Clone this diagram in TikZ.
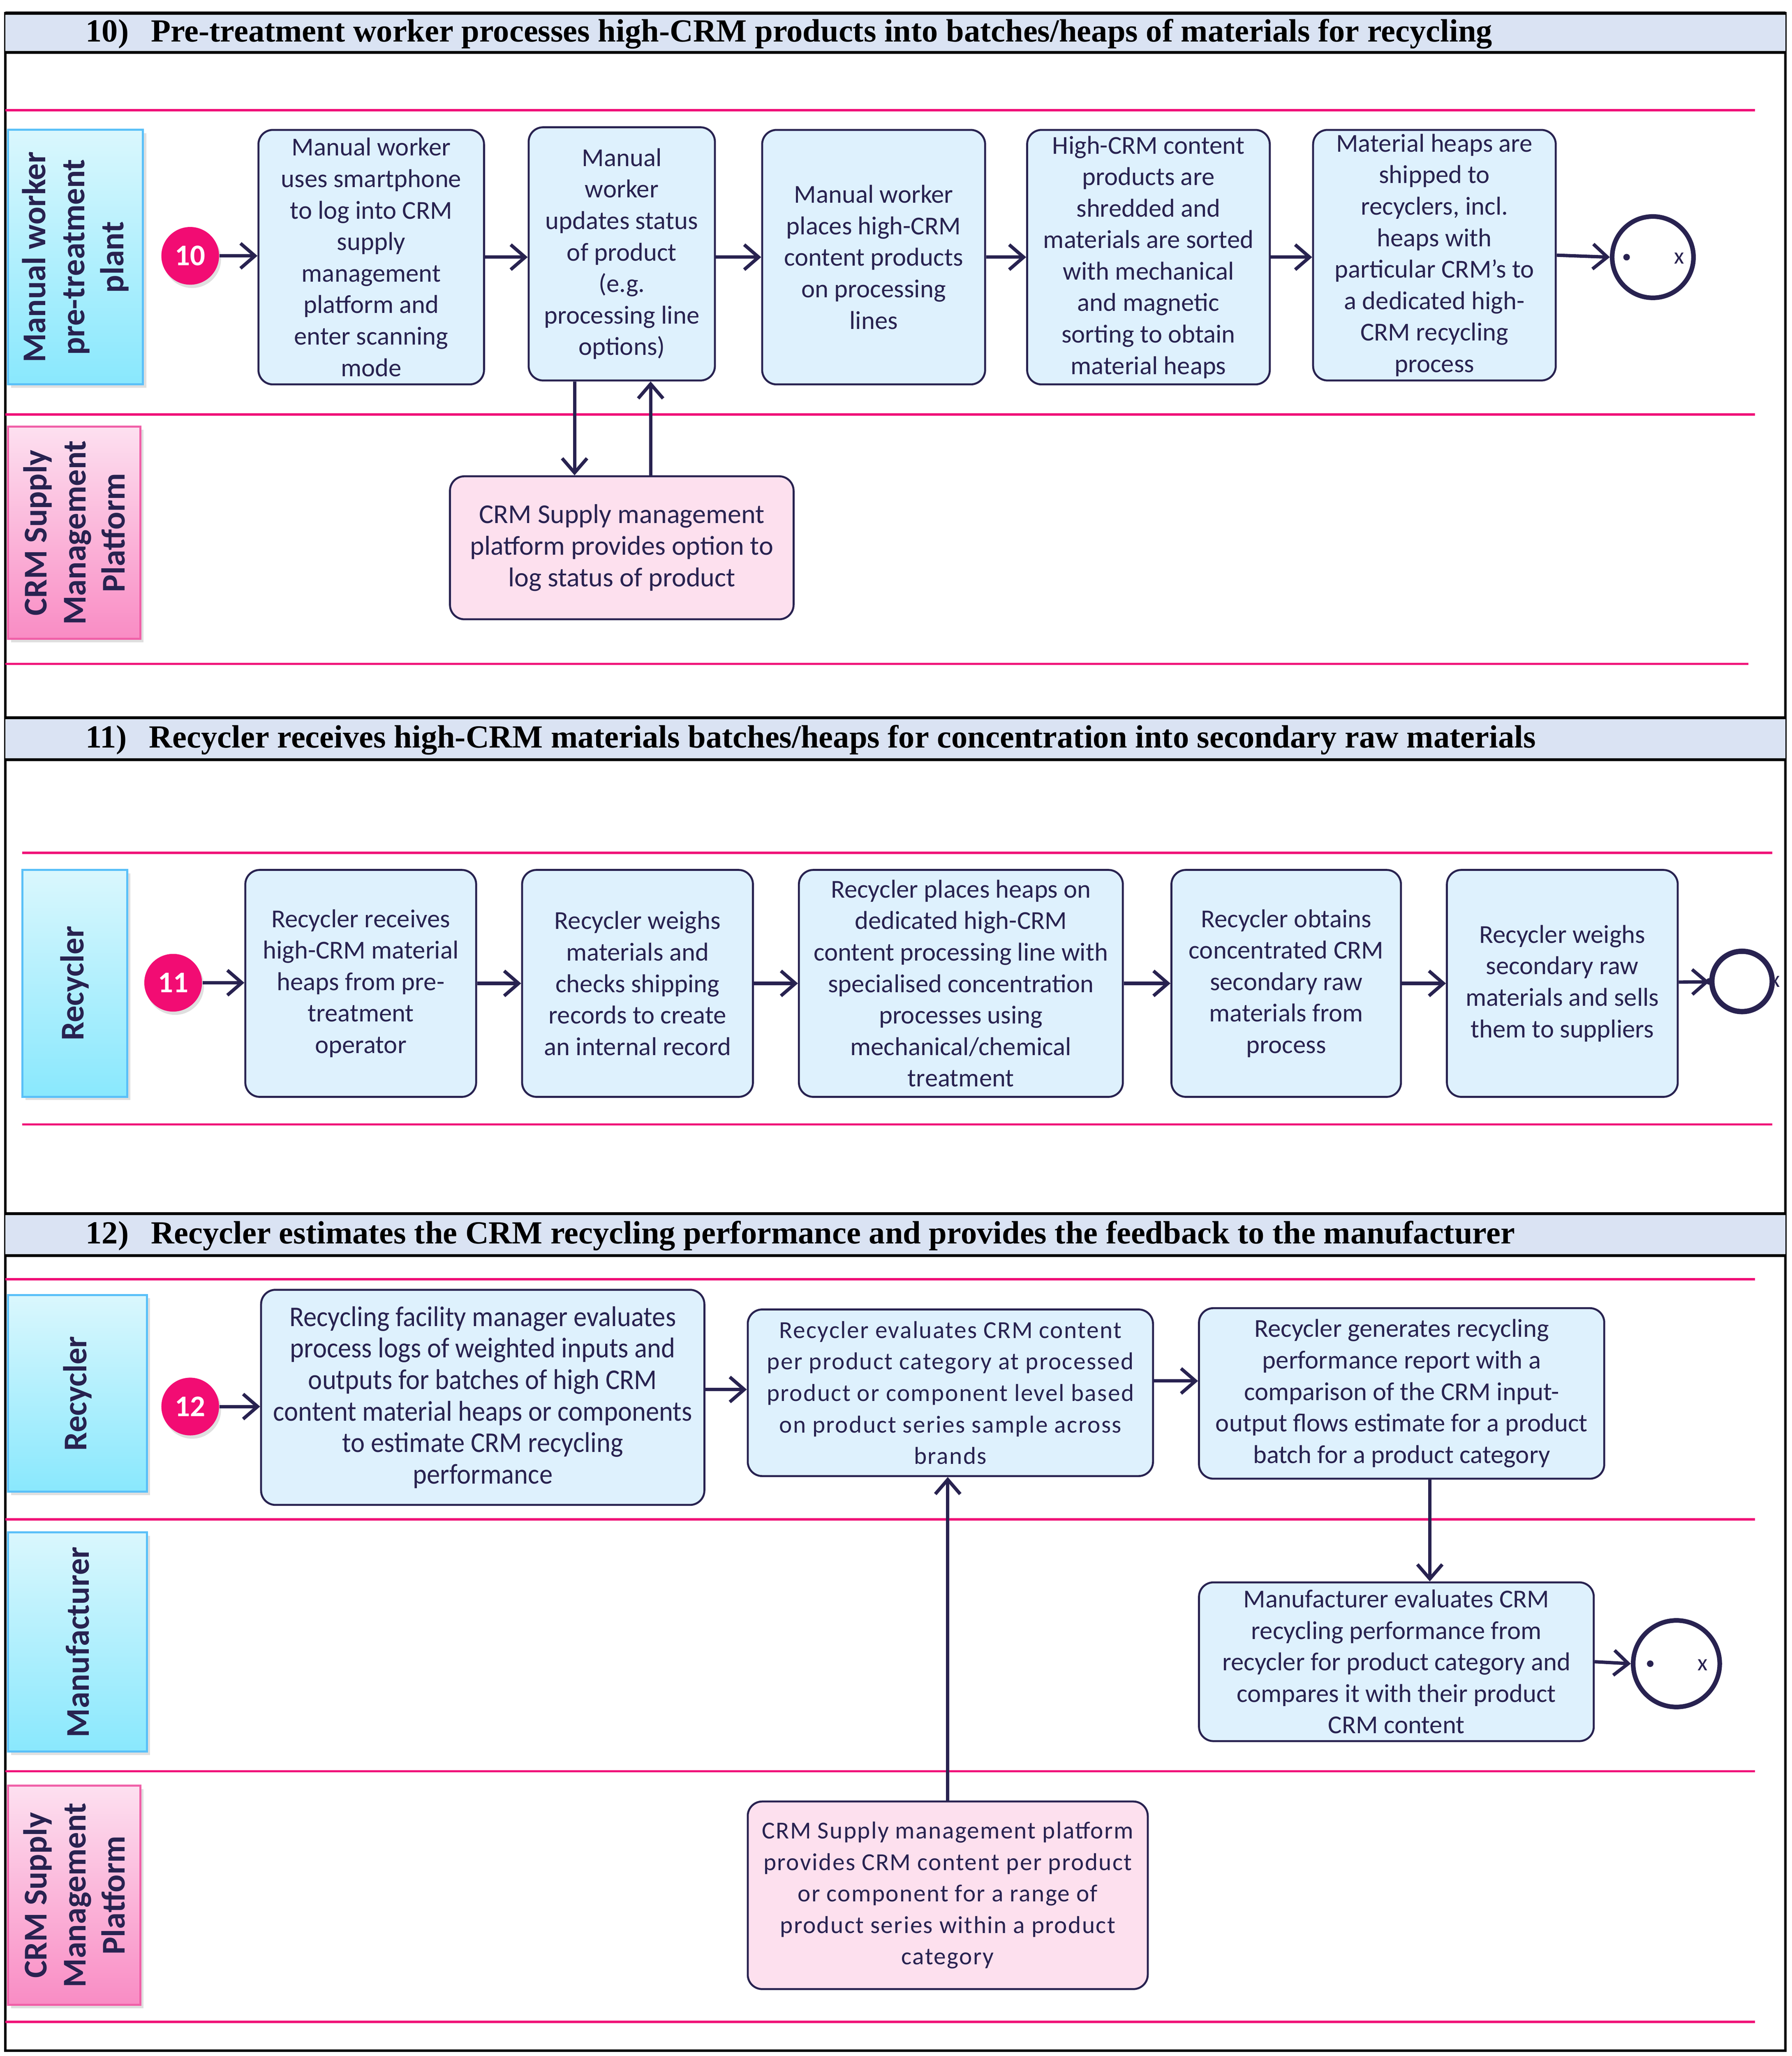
\documentclass[tikz,border=0pt]{standalone}
\usepackage{fontspec}
\setmainfont{Carlito}
\newfontfamily\headfont{Liberation Serif}
\newfontfamily\widefont[LetterSpace=4]{Carlito}
\newfontfamily\narrowfont[FakeStretch=0.93]{Carlito}
\usetikzlibrary{arrows.meta, positioning, calc, shadows}

\definecolor{inkblue}{RGB}{40, 34, 80}
\definecolor{procfill}{RGB}{222, 241, 253}
\definecolor{platfill}{RGB}{253, 224, 238}
\definecolor{swimpink}{RGB}{240, 16, 120}
\definecolor{startpink}{RGB}{242, 12, 115}
\definecolor{headfill}{RGB}{218, 227, 243}
\definecolor{cyantop}{RGB}{218, 247, 253}
\definecolor{cyanbot}{RGB}{137, 232, 253}
\definecolor{cyanedge}{RGB}{90, 192, 248}
\definecolor{pinktop}{RGB}{253, 224, 240}
\definecolor{pinkbot}{RGB}{249, 140, 196}
\definecolor{pinkedge}{RGB}{240, 96, 168}

\newcommand{\procsize}{\fontsize{11.2}{13.66}\selectfont}
\newcommand{\lanesize}{\fontsize{14.4}{17}\selectfont}
\newcommand{\headsize}{\fontsize{14}{16}\selectfont}

\tikzset{
  proc/.style={draw=inkblue, line width=0.85pt, fill=procfill, rounded corners=0.22cm,
    align=center, inner sep=1pt, text=inkblue, font=\procsize},
  plat/.style={proc, fill=platfill},
  lanecyan/.style={draw=cyanedge, line width=0.9pt, top color=cyantop, bottom color=cyanbot,
    align=center, rotate=90, text=inkblue, font=\lanesize\bfseries,
    drop shadow={shadow xshift=0.05cm, shadow yshift=-0.05cm, fill=black!25, opacity=0.5}},
  lanepink/.style={lanecyan, draw=pinkedge, top color=pinktop, bottom color=pinkbot},
  startev/.style={circle, fill=startpink, text=white, font=\fontsize{13}{13}\selectfont\bfseries,
    minimum size=0.88cm, inner sep=0pt,
    drop shadow={shadow xshift=0.03cm, shadow yshift=-0.05cm, fill=black!25, opacity=0.5}},
  endev/.style={circle, draw=inkblue, line width=2pt, fill=white, minimum size=1.24cm, inner sep=0pt},
  endx/.style={text=inkblue, font=\fontsize{10}{10}\selectfont, inner sep=0pt},
  flow/.style={draw=inkblue, line width=1.45pt, -{Straight Barb[length=0.22cm, width=0.38cm]}},
  swim/.style={draw=swimpink, line width=1pt},
  headtext/.style={font=\headfont\headsize\bfseries, anchor=west, inner sep=0pt},
}

\begin{document}
\begin{tikzpicture}[x=0.02cm, y=-0.02cm]
  \useasboundingbox (0,0) rectangle (1366,1567);

  % Outer frame
  \draw[line width=1pt] (4,10) rectangle (1361,1563);

  % ---------------- Section 10 ----------------
  \fill[headfill] (4,10) rectangle (1361,40);
  \draw[line width=1.3pt] (4,10) -- (1361,10) (4,40) -- (1361,40);
  \node[headtext] (h10) at (65,26) {10)\hspace{0.34cm}Pre-treatment worker processes high-CRM products into batches/heaps of materials for recycling};

  \draw[swim] (4,84) -- (1338,84) (4,316) -- (1338,316) (4,506) -- (1333,506);

  \node[lanecyan, minimum width=3.88cm, minimum height=2.06cm] (lane10w) at (57.5,196) {Manual worker\\pre-treatment\\plant};
  \node[lanepink, minimum width=3.24cm, minimum height=2.02cm] (lane10p) at (56.5,406) {CRM Supply\\Management\\Platform};

  \node[startev] (s10) at (145,195) {10};
  \node[proc, minimum width=3.44cm, minimum height=3.88cm] (b1) at (283,196) {Manual worker\\uses smartphone\\to log into CRM\\supply\\management\\platform and\\enter scanning\\mode};
  \node[proc, minimum width=2.84cm, minimum height=3.86cm] (b2) at (474,193.5) {Manual\\worker\\updates status\\of product\\(e.g.\\processing line\\options)};
  \node[proc, minimum width=3.40cm, minimum height=3.88cm] (b3) at (666,196) {Manual worker\\places high-CRM\\content products\\on processing\\lines};
  \node[proc, minimum width=3.70cm, minimum height=3.88cm] (b4) at (875.5,196) {High-CRM content\\products are\\shredded and\\materials are sorted\\with mechanical\\and magnetic\\sorting to obtain\\material heaps};
  \node[proc, minimum width=3.70cm, minimum height=3.82cm] (b5) at (1093.5,194.5) {Material heaps are\\shipped to\\recyclers, incl.\\heaps with\\particular CRM’s to\\a dedicated high-\\CRM recycling\\process};
  \node[endev] (e10) at (1260,196) {};
  \fill[inkblue] ($(e10.center)+(-20,0)$) circle (0.05cm);
  \node[endx] (e10x) at ($(e10.center)+(20,1)$) {x};

  \node[plat, font=\fontsize{11.8}{13.66}\selectfont, minimum width=5.24cm, minimum height=2.18cm] (p10) at (474,417.5) {CRM Supply management\\platform provides option to\\log status of product};

  \draw[flow] (s10) -- (s10 -| b1.west);
  \draw[flow] (b1.east) -- (b1.east -| b2.west);
  \draw[flow] ([yshift=-0.05cm]b2.east) -- ([yshift=-0.05cm]b2.east -| b3.west);
  \draw[flow] (b3.east) -- (b3.east -| b4.west);
  \draw[flow] (b4.east) -- (b4.east -| b5.west);
  \draw[flow] (b5.east) -- (e10.west);
  \draw[flow] ([xshift=-0.72cm]b2.south) -- ([xshift=-0.72cm]b2.south |- p10.north);
  \draw[flow] ([xshift=0.44cm]b2.south |- p10.north) -- ([xshift=0.44cm]b2.south);

  % ---------------- Section 11 ----------------
  \fill[headfill] (4,547) rectangle (1361,579);
  \draw[line width=1.3pt] (4,547) -- (1361,547) (4,579) -- (1361,579);
  \node[headtext] (h11) at (65,564) {11)\hspace{0.34cm}Recycler receives high-CRM materials batches/heaps for concentration into secondary raw materials};

  \draw[swim] (17,650) -- (1351,650) (17,857) -- (1351,857);

  \node[lanecyan, minimum width=3.46cm, minimum height=1.60cm] (lane11r) at (57,749.5) {Recycler};

  \node[startev] (s11) at (132,749) {11};
  \node[proc, minimum width=3.52cm, minimum height=3.46cm] (c1) at (275,749.5) {Recycler receives\\high-CRM material\\heaps from pre-\\treatment\\operator};
  \node[proc, minimum width=3.52cm, minimum height=3.46cm] (c2) at (486,749.5) {Recycler weighs\\materials and\\checks shipping\\records to create\\an internal record};
  \node[proc, minimum width=4.94cm, minimum height=3.46cm] (c3) at (732.5,749.5) {Recycler places heaps on\\dedicated high-CRM\\content processing line with\\specialised concentration\\processes using\\mechanical/chemical\\treatment};
  \node[proc, minimum width=3.50cm, minimum height=3.46cm] (c4) at (980.5,749.5) {Recycler obtains\\concentrated CRM\\secondary raw\\materials from\\process};
  \node[proc, minimum width=3.52cm, minimum height=3.46cm] (c5) at (1191,749.5) {Recycler weighs\\secondary raw\\materials and sells\\them to suppliers};
  \node[endev, minimum size=0.92cm, line width=2.3pt] (e11) at (1328,748) {};
  \fill[inkblue] (e11.west) circle (0.05cm);
  \node[endx] (e11x) at (e11.east) {x};

  \draw[flow] (s11) -- (s11 -| c1.west);
  \draw[flow] (c1) -- (c2);
  \draw[flow] (c2) -- (c3);
  \draw[flow] (c3) -- (c4);
  \draw[flow] (c4) -- (c5);
  \draw[flow] (c5) -- (e11);

  % ---------------- Section 12 ----------------
  \fill[headfill] (4,925) rectangle (1361,957);
  \draw[line width=1.3pt] (4,925) -- (1361,925) (4,957) -- (1361,957);
  \node[headtext] (h12) at (65,942) {12)\hspace{0.34cm}Recycler estimates the CRM recycling performance and provides the feedback to the manufacturer};

  \draw[swim] (4,975) -- (1338,975) (4,1158) -- (1338,1158) (4,1350) -- (1338,1350) (4,1541) -- (1338,1541);

  \node[lanecyan, minimum width=3.00cm, minimum height=2.12cm] (lane12r) at (59,1062) {Recycler};
  \node[lanecyan, minimum width=3.34cm, minimum height=2.12cm] (lane12m) at (59,1251.5) {Manufacturer};
  \node[lanepink, minimum width=3.34cm, minimum height=2.02cm] (lane12p) at (56.5,1444.5) {CRM Supply\\Management\\Platform};

  \node[startev] (s12) at (145,1072) {12};
  \node[proc, font=\narrowfont\fontsize{12.4}{13.66}\selectfont, minimum width=6.76cm, minimum height=3.28cm] (d1) at (368,1065) {Recycling facility manager evaluates\\process logs of weighted inputs and\\outputs for batches of high CRM\\content material heaps or components\\to estimate CRM recycling\\performance};
  \node[proc, font=\widefont\fontsize{10.6}{13.66}\selectfont, minimum width=6.18cm, minimum height=2.54cm] (d2) at (724.5,1061.5) {Recycler evaluates CRM content\\per product category at processed\\product or component level based\\on product series sample across\\brands};
  \node[proc, minimum width=6.18cm, minimum height=2.60cm] (d3) at (1068.5,1062) {Recycler generates recycling\\performance report with a\\comparison of the CRM input-\\output flows estimate for a product\\batch for a product category};
  \node[proc, minimum width=6.02cm, minimum height=2.42cm] (d4) at (1064.5,1266.5) {Manufacturer evaluates CRM\\recycling performance from\\recycler for product category and\\compares it with their product\\CRM content};
  \node[endev, minimum size=1.32cm] (e12) at (1278,1268) {};
  \fill[inkblue] ($(e12.center)+(-20,0)$) circle (0.05cm);
  \node[endx] (e12x) at ($(e12.center)+(20,1)$) {x};

  \node[plat, font=\widefont\fontsize{10.6}{13.66}\selectfont, minimum width=6.10cm, minimum height=2.86cm] (p12) at (722.5,1444.5) {CRM Supply management platform\\provides CRM content per product\\or component for a range of\\product series within a product\\category};

  \draw[flow] (s12) -- (s12 -| d1.west);
  \draw[flow] ([yshift=0.12cm]d1.east) -- ([yshift=0.12cm]d1.east -| d2.west);
  \draw[flow] ([yshift=0.18cm]d2.east) -- ([yshift=0.18cm]d2.east -| d3.west);
  \draw[flow] ([xshift=0.43cm]d3.south) -- ([xshift=0.43cm]d3.south |- d4.north);
  \draw[flow] (d4.east) -- (e12.west);
  \draw[flow] (p12.north) -- (p12.north |- d2.south);
\end{tikzpicture}
\end{document}
